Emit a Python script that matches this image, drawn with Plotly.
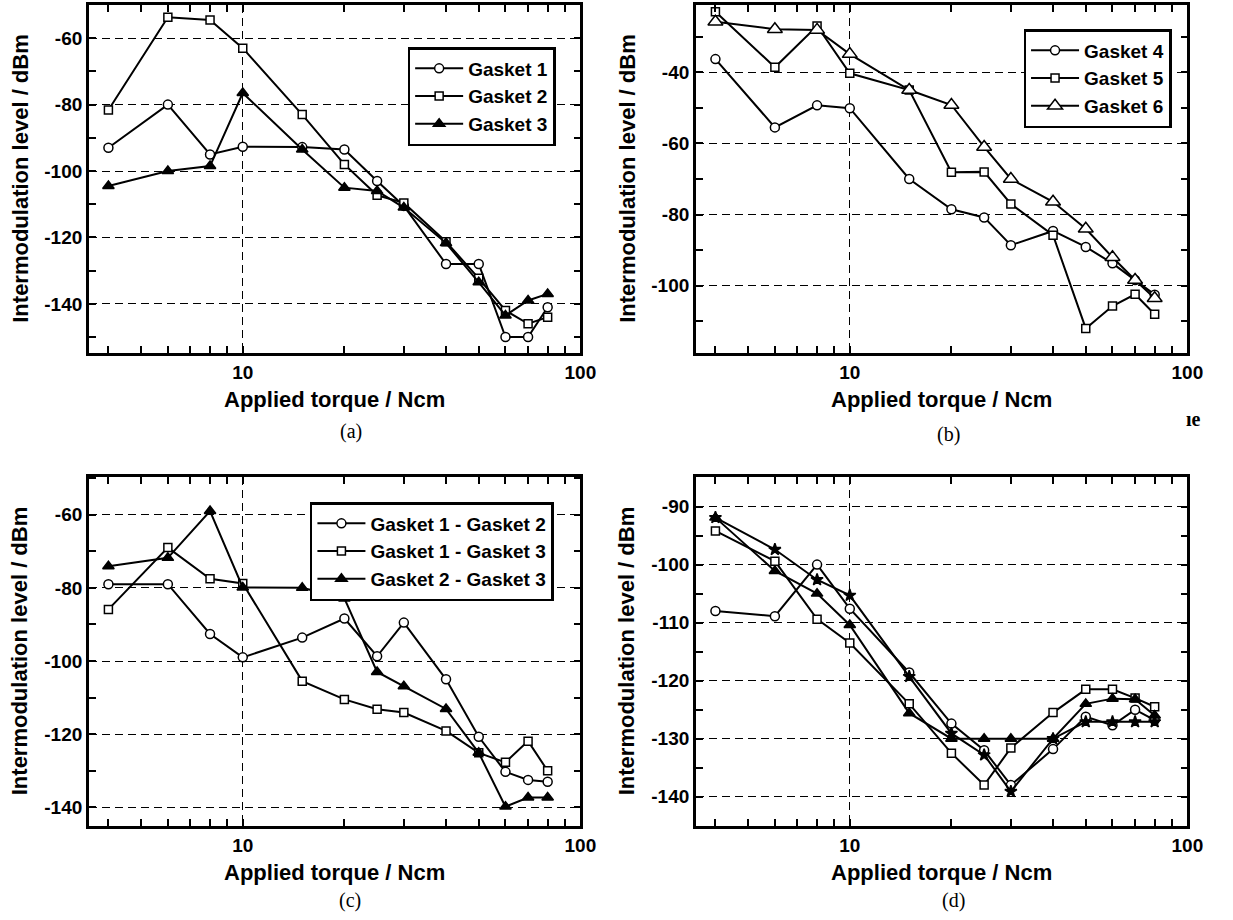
import math
import plotly.graph_objects as go

# ---------------- data ----------------
torque = [4, 6, 8, 10, 15, 20, 25, 30, 40, 50, 60, 70, 80]

# panel (a)
gasket1 = [-93, -80, -95, -92.7, -92.8, -93.5, -103, -110.5, -128, -128, -150, -150, -141]
gasket2 = [-81.6, -53.7, -54.5, -63, -83, -98, -107.3, -109.6, -121.3, -132.3, -142, -146, -144]
gasket3 = [-104.5, -100, -98.5, -76.5, -93.5, -105, -106, -111, -121.7, -133.5, -143.5, -139, -137]

# panel (b)
gasket4 = [-36.3, -55.5, -49.3, -50.1, -70, -78.5, -80.8, -88.6, -84.6, -89.1, -93.7, -98.4, -102.5]
gasket5 = [-23, -38.6, -27, -40.3, -45, -68.1, -68, -77, -85.8, -112, -105.7, -102.4, -108]
gasket6 = [-25.8, -27.9, -28.1, -34.9, -45, -49.2, -61, -70, -76.4, -84, -92, -98.4, -103.5]

# panel (c)
g1_g2 = [-79, -79, -92.6, -99, -93.6, -88.4, -98.7, -89.5, -105, -120.7, -130.3, -132.5, -133]
g1_g3 = [-85.9, -69, -77.5, -78.8, -105.5, -110.5, -113.2, -114.1, -119.1, -125.1, -127.7, -121.9, -130]
g2_g3 = [-74.1, -71.8, -59, -79.9, -80, -82.9, -103, -106.9, -113.1, -125.1, -139.8, -137.3, -137.3]

# panel (d)
d_circle = [-108, -108.9, -100, -107.6, -118.6, -127.4, -132, -138, -131.8, -126.2, -127.7, -125, -126.8]
d_square = [-94.2, -99.4, -109.4, -113.5, -124, -132.5, -138, -131.6, -125.5, -121.5, -121.5, -123, -124.5]
d_triangle = [-91.9, -101.1, -105, -110.4, -125.6, -130, -130, -130, -130, -124, -123.1, -123.2, -126]
d_star = [-91.9, -97.4, -102.6, -105.3, -119.3, -129.1, -132.8, -139.1, -130, -127.1, -127.1, -127.1, -127.1]

# tick labels
x_major = [10, 100]
x_major_text = ["10", "100"]
x_minor = [4, 5, 6, 7, 8, 9, 20, 30, 40, 50, 60, 70, 80, 90]

y_major_a = [-60, -80, -100, -120, -140]
y_minor_a = [-50, -70, -90, -110, -130, -150]
y_major_b = [-40, -60, -80, -100]
y_minor_b = [-30, -50, -70, -90, -110]
y_major_c = [-60, -80, -100, -120, -140]
y_minor_c = [-50, -70, -90, -110, -130]
y_major_d = [-90, -100, -110, -120, -130, -140]
y_minor_d = [-85, -95, -105, -115, -125, -135, -145]

x_title = "Applied torque / Ncm"
y_title = "Intermodulation level / dBm"
panel_labels = ["(a)", "(b)", "(c)", "(d)"]

# ---------------- layout helpers ----------------
W, H = 1233, 920
FONT = "Liberation Sans"


def fx(p):
    return p / W


def fy(p):
    return 1 - p / H


def xaxis(dom, anchor):
    return dict(
        type="log", range=[math.log10(3.5), 2.0], domain=dom, anchor=anchor,
        tickmode="array", tickvals=x_major, ticktext=x_major_text,
        ticks="inside", ticklen=7, tickwidth=1.5, tickcolor="black",
        showline=True, linewidth=2.5, linecolor="black", mirror="allticks",
        showgrid=True, gridcolor="black", gridwidth=1.3, griddash="8px,5px",
        minor=dict(tickmode="array", tickvals=x_minor, ticks="inside", ticklen=7,
                   tickwidth=1.5, tickcolor="black", showgrid=False),
        tickfont=dict(family=FONT, size=19, color="black", weight="bold"),
        zeroline=False,
    )


def yaxis(dom, anchor, rng, major, minor):
    return dict(
        range=rng, domain=dom, anchor=anchor,
        tickmode="array", tickvals=major, ticktext=[str(v) for v in major],
        ticks="inside", ticklen=7, tickwidth=1.5, tickcolor="black",
        showline=True, linewidth=2.5, linecolor="black", mirror="allticks",
        showgrid=True, gridcolor="black", gridwidth=1.3, griddash="8px,5px",
        minor=dict(tickmode="array", tickvals=minor, ticks="inside", ticklen=7,
                   tickwidth=1.5, tickcolor="black", showgrid=False),
        tickfont=dict(family=FONT, size=19, color="black", weight="bold"),
        zeroline=False,
    )


# plot-area pixel boxes (left, right, top, bottom)
boxes = {
    "a": (90, 588, 5, 353),
    "b": (705, 1203, 5, 353),
    "c": (90, 588, 477, 826),
    "d": (705, 1203, 477, 826),
}


def doms(key):
    l, r, t, b = boxes[key]
    return [fx(l), fx(r)], [fy(b), fy(t)]


fig = go.Figure()

LINE = dict(color="black", width=2)


def mk(symbol, size, fill="white"):
    return dict(symbol=symbol, size=size, color=fill, line=dict(color="black", width=1.5))


def add(y, name, marker, xa, ya, legend, show=True):
    fig.add_trace(go.Scatter(
        x=torque, y=y, name=name, mode="lines+markers", line=LINE, marker=marker,
        xaxis=xa, yaxis=ya, legend=legend, showlegend=show,
    ))


add(gasket1, "Gasket 1", mk("circle", 9), "x", "y", "legend")
add(gasket2, "Gasket 2", mk("square", 8), "x", "y", "legend")
add(gasket3, "Gasket 3", mk("triangle-up", 10, "black"), "x", "y", "legend")

add(gasket4, "Gasket 4", mk("circle", 9), "x2", "y2", "legend2")
add(gasket5, "Gasket 5", mk("square", 8), "x2", "y2", "legend2")
add(gasket6, "Gasket 6", mk("triangle-up", 13), "x2", "y2", "legend2")

add(g1_g2, "Gasket 1 - Gasket 2", mk("circle", 9), "x3", "y3", "legend3")
add(g1_g3, "Gasket 1 - Gasket 3", mk("square", 8), "x3", "y3", "legend3")
add(g2_g3, "Gasket 2 - Gasket 3", mk("triangle-up", 10, "black"), "x3", "y3", "legend3")

add(d_circle, "circle", mk("circle", 9), "x4", "y4", "legend", False)
add(d_square, "square", mk("square", 8), "x4", "y4", "legend", False)
add(d_triangle, "triangle", mk("triangle-up", 10, "black"), "x4", "y4", "legend", False)
add(d_star, "star", mk("star", 9, "black"), "x4", "y4", "legend", False)

xa_d, ya_d = doms("a")
xb_d, yb_d = doms("b")
xc_d, yc_d = doms("c")
xd_d, yd_d = doms("d")


def legend_cfg(left, top):
    return dict(
        x=fx(left), y=fy(top), xanchor="left", yanchor="top",
        bgcolor="white", bordercolor="black", borderwidth=2.5,
        font=dict(family=FONT, size=19, color="black", weight="bold"),
        tracegroupgap=0, itemwidth=48,
    )


annotations = []


def ann(text, x, y, size, angle=0, family=FONT, weight="bold"):
    annotations.append(dict(
        text=text, x=fx(x), y=fy(y), xref="paper", yref="paper",
        xanchor="center", yanchor="middle", showarrow=False, textangle=angle,
        font=dict(family=family, size=size, color="black", weight=weight),
    ))


for key, lab, lx, ly in [("a", panel_labels[0], 356, 432), ("b", panel_labels[1], 961, 434),
                         ("c", panel_labels[2], 355, 900), ("d", panel_labels[3], 966, 900)]:
    l, r, t, b = boxes[key]
    ann(x_title, (l + r) / 2, b + 46, 22)
    ann(y_title, l - 70, (t + b) / 2, 22, angle=-90)
    ann(lab, lx, ly, 20, family="Liberation Serif", weight="normal")

ann("ıe", 1209, 419, 20, family="Liberation Serif")

fig.update_layout(
    width=W, height=H, margin=dict(l=0, r=0, t=0, b=0),
    paper_bgcolor="white", plot_bgcolor="white",
    xaxis=xaxis(xa_d, "y"), yaxis=yaxis(ya_d, "x", [-154.8, -50.0], y_major_a, y_minor_a),
    xaxis2=xaxis(xb_d, "y2"), yaxis2=yaxis(yb_d, "x2", [-118.9, -21.1], y_major_b, y_minor_b),
    xaxis3=xaxis(xc_d, "y3"), yaxis3=yaxis(yc_d, "x3", [-145.1, -49.7], y_major_c, y_minor_c),
    xaxis4=xaxis(xd_d, "y4"), yaxis4=yaxis(yd_d, "x4", [-145.05, -84.9], y_major_d, y_minor_d),
    legend=legend_cfg(413, 47),
    legend2=legend_cfg(1037, 29),
    legend3=legend_cfg(314, 502),
    annotations=annotations,
    showlegend=True,
)

fig.write_html("out.html")
